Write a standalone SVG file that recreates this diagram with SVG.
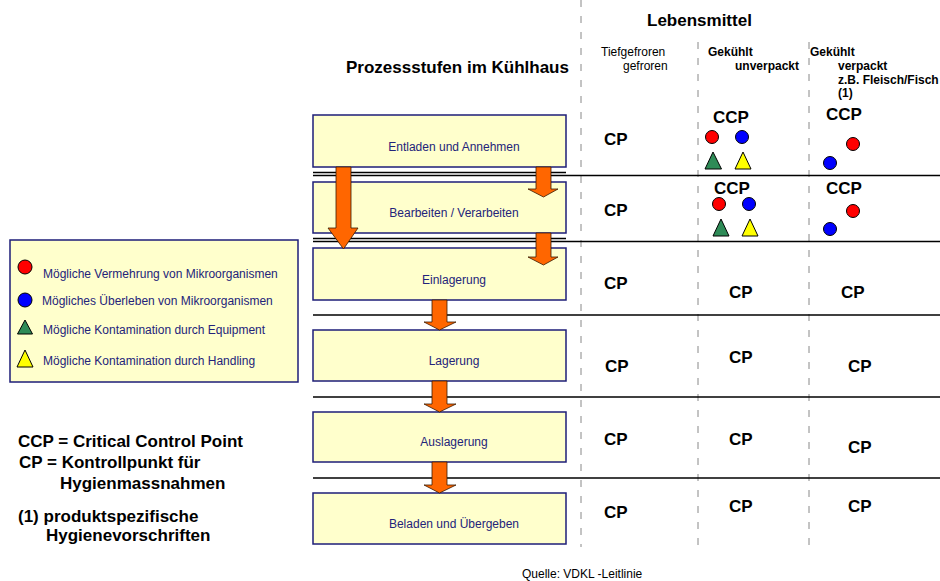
<svg xmlns="http://www.w3.org/2000/svg" width="940" height="581" viewBox="0 0 940 581">
<style>
.box{fill:#FFFFCC;stroke:#1E1E78;stroke-width:1.5}
.bt{font-family:"Liberation Sans",Arial,sans-serif;font-size:12px;fill:#23237A;text-anchor:middle}
.lt{font-family:"Liberation Sans",Arial,sans-serif;font-size:12px;fill:#23237A}
.hd{font-family:"Liberation Sans",Arial,sans-serif;font-weight:bold;fill:#000}
.cp{font-family:"Liberation Sans",Arial,sans-serif;font-weight:bold;font-size:17px;fill:#000}
.sm{font-family:"Liberation Sans",Arial,sans-serif;font-size:12px;fill:#000}
.smb{font-family:"Liberation Sans",Arial,sans-serif;font-size:12px;font-weight:bold;fill:#000}
.hl{stroke:#000;stroke-width:1.5}
.vl{stroke:#888;stroke-width:1;stroke-dasharray:7,9}
.arr{fill:#FF6600;stroke:#3a1a00;stroke-width:0.8}
.red{fill:#FF0000;stroke:#000;stroke-width:1}
.blue{fill:#0000FF;stroke:#000;stroke-width:1}
.green{fill:#2E8B57;stroke:#000;stroke-width:1}
.yel{fill:#FFFF00;stroke:#000;stroke-width:1}
</style>

<!-- grid lines -->
<g id="grid">
<line class="vl" x1="581" y1="0" x2="581" y2="547"/>
<line class="vl" x1="698" y1="42" x2="698" y2="547"/>
<line class="vl" x1="809" y1="42" x2="809" y2="547"/>
<line class="hl" x1="313" y1="172.5" x2="566" y2="172.5" stroke-width="1.2"/>
<line class="hl" x1="313" y1="175.5" x2="940" y2="175.5"/>
<line class="hl" x1="313" y1="238.5" x2="566" y2="238.5" stroke-width="1.2"/>
<line class="hl" x1="313" y1="241.5" x2="940" y2="241.5"/>
<line class="hl" x1="313" y1="315" x2="940" y2="315"/>
<line class="hl" x1="313" y1="397" x2="940" y2="397"/>
<line class="hl" x1="313" y1="478" x2="940" y2="478"/>
</g>

<!-- headers -->
<g id="headers">
<text class="hd" x="647" y="26" font-size="17">Lebensmittel</text>
<text class="sm" x="601" y="56">Tiefgefroren</text>
<text class="sm" x="623" y="70">gefroren</text>
<text class="smb" x="708" y="56">Gekühlt</text>
<text class="smb" x="735" y="70">unverpackt</text>
<text class="smb" x="810" y="56">Gekühlt</text>
<text class="smb" x="838" y="70">verpackt</text>
<text class="smb" x="838" y="84">z.B. Fleisch/Fisch</text>
<text class="smb" x="838" y="97">(1)</text>
<text class="hd" x="346" y="73" font-size="17">Prozessstufen im Kühlhaus</text>
</g>

<!-- process boxes -->
<g id="step1"><rect class="box" x="313" y="115" width="253" height="52"/><text class="bt" x="454" y="150.5">Entladen und Annehmen</text></g>
<g id="step2"><rect class="box" x="313" y="182" width="253" height="51"/><text class="bt" x="454" y="216.5">Bearbeiten / Verarbeiten</text></g>
<g id="step3"><rect class="box" x="313" y="248" width="253" height="52"/><text class="bt" x="454" y="284">Einlagerung</text></g>
<g id="step4"><rect class="box" x="313" y="330" width="253" height="51"/><text class="bt" x="454" y="365">Lagerung</text></g>
<g id="step5"><rect class="box" x="313" y="412" width="253" height="50"/><text class="bt" x="454" y="445.5">Auslagerung</text></g>
<g id="step6"><rect class="box" x="313" y="493" width="253" height="51"/><text class="bt" x="454" y="528">Beladen und Übergeben</text></g>

<!-- connectors -->
<g id="connectors">
<polygon class="arr" points="336,167 351,167 351,228 358,228 343.5,249 328,228 336,228"/>
<polygon class="arr" points="536,167 551,167 551,189 558,189 543.5,197 528,189 536,189"/>
<polygon class="arr" points="536,233 551,233 551,257 558,257 543.5,265 528,257 536,257"/>
<polygon class="arr" points="432,300 447,300 447,322 456,322 439.5,330 424,322 432,322"/>
<polygon class="arr" points="432,381 447,381 447,404 456,404 439.5,412 424,404 432,404"/>
<polygon class="arr" points="432,462 447,462 447,485 456,485 439.5,493 424,485 432,485"/>
</g>

<!-- row markers -->
<g id="row1">
<text class="cp" x="604" y="145">CP</text>
<text class="cp" x="713" y="123">CCP</text>
<circle class="red" cx="712" cy="137" r="6.5"/>
<circle class="blue" cx="742" cy="137" r="6.5"/>
<polygon class="green" points="713,152 721.5,169 705,169"/>
<polygon class="yel" points="743,152 751,169 735,169"/>
<text class="cp" x="826" y="120">CCP</text>
<circle class="red" cx="853" cy="144" r="6.5"/>
<circle class="blue" cx="830" cy="163" r="6.5"/>
</g>
<g id="row2">
<text class="cp" x="604" y="216">CP</text>
<text class="cp" x="714" y="194">CCP</text>
<circle class="red" cx="719" cy="204" r="6.5"/>
<circle class="blue" cx="749" cy="204" r="6.5"/>
<polygon class="green" points="721,219 729,236 713,236"/>
<polygon class="yel" points="750,219 758,236 742,236"/>
<text class="cp" x="826" y="194">CCP</text>
<circle class="red" cx="853" cy="211" r="6.5"/>
<circle class="blue" cx="830" cy="229" r="6.5"/>
</g>
<g id="row3">
<text class="cp" x="604" y="289">CP</text>
<text class="cp" x="729" y="298">CP</text>
<text class="cp" x="841" y="298">CP</text>
</g>
<g id="row4">
<text class="cp" x="605" y="372">CP</text>
<text class="cp" x="729" y="363">CP</text>
<text class="cp" x="848" y="372">CP</text>
</g>
<g id="row5">
<text class="cp" x="604" y="445">CP</text>
<text class="cp" x="729" y="445">CP</text>
<text class="cp" x="848" y="453">CP</text>
</g>
<g id="row6">
<text class="cp" x="604" y="518">CP</text>
<text class="cp" x="729" y="512">CP</text>
<text class="cp" x="848" y="512">CP</text>
</g>

<!-- legend -->
<g id="legend">
<rect class="box" x="10" y="240" width="288" height="142"/>
<circle class="red" cx="25" cy="267" r="7"/>
<text class="lt" x="43" y="278">Mögliche Vermehrung von Mikroorganismen</text>
<circle class="blue" cx="25" cy="300" r="7"/>
<text class="lt" x="42" y="305">Mögliches Überleben von Mikroorganismen</text>
<polygon class="green" points="25,320 32.5,334 17.5,334"/>
<text class="lt" x="43" y="334">Mögliche Kontamination durch Equipment</text>
<polygon class="yel" points="25,350 33,367 17,367"/>
<text class="lt" x="43" y="365">Mögliche Kontamination durch Handling</text>
</g>

<!-- notes -->
<g id="notes">
<text class="hd" x="18" y="447" font-size="17">CCP = Critical Control Point</text>
<text class="hd" x="19" y="468" font-size="17">CP = Kontrollpunkt für</text>
<text class="hd" x="60" y="489" font-size="17">Hygienmassnahmen</text>
<text class="hd" x="18" y="522" font-size="17">(1) produktspezifische</text>
<text class="hd" x="46" y="541" font-size="17">Hygienevorschriften</text>
</g>

<text class="sm" x="522" y="578" font-size="11">Quelle: VDKL -Leitlinie</text>
</svg>
